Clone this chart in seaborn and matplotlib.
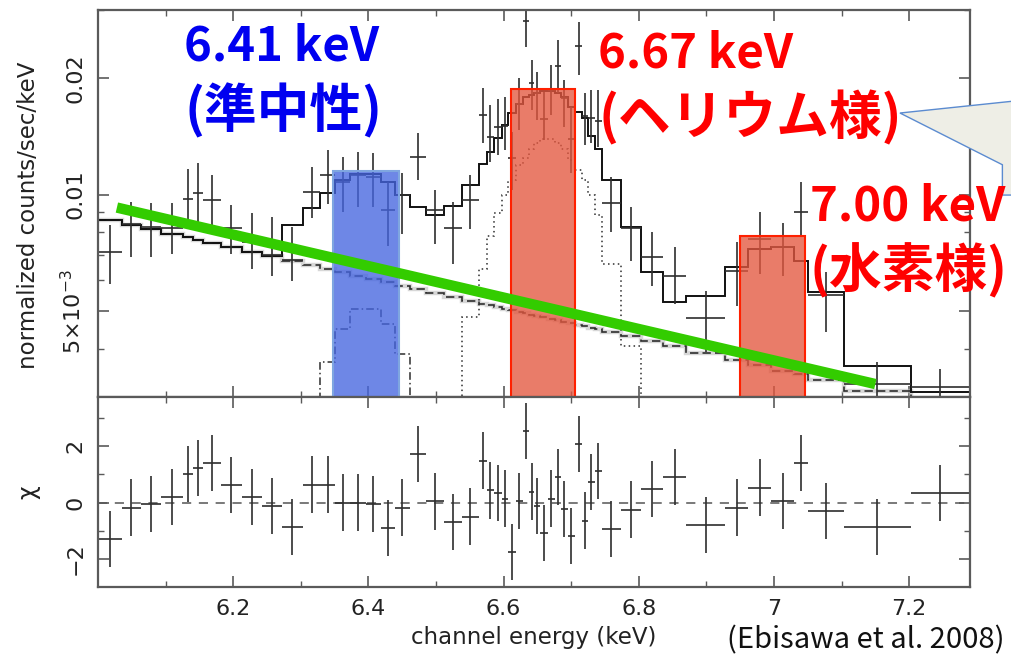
import numpy as np
import matplotlib
matplotlib.use("Agg")
import matplotlib.pyplot as plt
from matplotlib.patches import Rectangle, Polygon
from matplotlib.colors import to_rgba
from matplotlib.ticker import FixedLocator, FixedFormatter, NullFormatter, FuncFormatter
import seaborn as sns

sns.set_theme(style="ticks")
plt.rcParams["font.family"] = ["DejaVu Sans"]
plt.rcParams["mathtext.fontset"] = "dejavusans"

# channel bins (keV), 52 grouped channels
bin_edges = [6.000, 6.035, 6.064, 6.093, 6.126, 6.140, 6.156, 6.182, 6.213, 6.242,
             6.272, 6.303, 6.329, 6.351, 6.373, 6.396, 6.418, 6.440, 6.461, 6.485,
             6.512, 6.538, 6.563, 6.575, 6.586, 6.597, 6.607, 6.618, 6.629, 6.638,
             6.645, 6.654, 6.665, 6.676, 6.685, 6.695, 6.706, 6.716, 6.725, 6.735,
             6.745, 6.774, 6.803, 6.836, 6.870, 6.928, 6.962, 6.996, 7.030, 7.050,
             7.104, 7.202, 7.290]

# observed spectrum (counts/sec/keV) with error range
cnt = [.00709, .00842, .00827, .00818, .00977, .01012, .00971, .00822, .00753, .00697,
       .00676, .01018, .01126, .0108, .01126, .01113, .00910, .0100, .01253, .00915,
       .00818, .00971, .01607, .0141, .01496, .01505, .01245, .01715, .02804, .01942,
       .0183, .0157, .01863, .02147, .01776, .01394, .0242, .01597, .0158, .0155,
       .00954, .00822, .00688, .00618, .0048, .00633, .00766, .00731, .00904, .0055,
       .00324, .00319]
cnt_lo = [.00587, .00688, .00688, .00701, .00822, .00837, .00822, .00701, .00641, .00615,
          .00597, .00872, .00948, .00904, .00931, .00931, .00735, .00789, .01093, .00744,
          .0066, .00813, .01361, .01216, .01268, .01306, .0103, .0147, .02404, .01655,
          .0156, .01386, .01607, .0183, .01496, .0114, .02036, .01345, .01361, .0133,
          .00803, .00672, .0058, .00521, .00392, .00515, .00622, .00615, .0078, .00441,
          .00297, .0029]
cnt_hi = [.00837, .00959, .00954, .00954, .01167, .01209, .01126, .00943, .00899, .00878,
          .00827, .0118, .01306, .01253, .0129, .01283, .0108, .0114, .01444, .0103,
          .00959, .01126, .01885, .01705, .01766, .01787, .01453, .0200, .0299, .02227,
          .0207, .0184, .0216, .0251, .01977, .01685, .0279, .0183, .01863, .01863,
          .0111, .00931, .00803, .00731, .00563, .00753, .00904, .00847, .0108, .0063,
          .0037, .00355]

# best-fit model: total, continuum, Fe XXV and Fe I lines
model_cnt = [.00859, .00835, .00813, .00791, .00775, .00764, .00751, .00731, .00712, .00693,
             .00834, .00926, .0101, .0109, .0113, .0113, .0108, .0100, .00931, .00888,
             .00937, .0106, .0120, .0129, .0140, .0151, .0163, .0172, .0179, .0181,
             .0183, .0185, .0185, .0183, .0179, .0168, .0164, .0158, .0142, .0131,
             .0109, .00827, .00630, .00527, .00546, .00649, .00722, .00731, .00672, .00560,
             .00361, .00309]
cont_cnt = [.00859, .00835, .00813, .00791, .00775, .00764, .00751, .00731, .00712, .00693,
            .00674, .00656, .00642, .00630, .00617, .00605, .00593, .00582, .00571, .00558,
            .00545, .00532, .00523, .00518, .00513, .00507, .00503, .00498, .00494, .00490,
            .00487, .00483, .00478, .00473, .00470, .00465, .00461, .00457, .00453, .00449,
            .00441, .00430, .00418, .00406, .00389, .00373, .00362, .00351, .00343, .00332,
            .00310, .00286]
fexxv_cnt = [.00483, .00641, .0078, .00899, .0100, .0109, .01195, .01245, .0131, .0136,
             .0139, .0139, .0136, .0131, .0123, .0116, .0109, .0100, .00888, .0066, .00406]
fexxv_first = 21
fei_cnt = [.0037, .00449, .00506, .00506, .00463, .00388]
fei_first = 12

# residuals (sigma)
chi = [-1.29, -0.18, -0.04, 0.2, 1.02, 1.23, 1.40, 0.62, 0.2, -0.12,
       -0.88, 0.64, 0.64, 0.0, 0.0, -0.04, -0.9, -0.18, 1.72, 0.04,
       -0.68, -0.5, 1.49, 0.43, 0.35, 0.14, -1.75, 0.06, 2.54, 0.39,
       -0.12, -1.09, 0.14, 0.9, -0.23, -1.2, 2.07, -0.64, 0.74, 1.13,
       -0.95, -0.25, 0.47, 0.9, -0.8, -0.18, 0.53, 0.06, 1.4, -0.29,
       -0.88, 0.35]

# highlighted line bands
band_lo = [6.347, 6.611, 6.950]
band_hi = [6.445, 6.706, 7.046]
band_top = [0.01153, 0.0187, 0.00784]
band_face = ["#4565e0", "#e3573f", "#e3573f"]
band_edge = ["#7fa6e0", "#ff2000", "#ff2000"]

# hand drawn continuum guide
green_e = [6.028, 7.150]
green_cnt = [0.00926, 0.00324]

xtick_major = [6.2, 6.4, 6.6, 6.8, 7.0, 7.2]
xtick_minor = [6.1, 6.3, 6.5, 6.7, 6.9, 7.1]
ytick_major = [0.005, 0.01, 0.02]
ytick_labels = [r"5×10$^{-3}$", "0.01", "0.02"]
ytick_minor = [0.003, 0.004, 0.006, 0.007, 0.008, 0.009, 0.03]

edges = np.array(bin_edges)
centers = (edges[:-1] + edges[1:]) / 2
half_w = np.diff(edges) / 2
cnt = np.array(cnt)
yerr = [cnt - np.array(cnt_lo), np.array(cnt_hi) - cnt]

line_c = "#2e2e2e"
frame_c = "#5a5a5a"

fig = plt.figure(figsize=(10.12, 6.59), dpi=100)
ax = fig.add_axes([0.0968, 0.3976, 0.8617, 0.5872])
ax2 = fig.add_axes([0.0968, 0.1093, 0.8617, 0.2883], sharex=ax)

# --- spectrum panel
ax.stairs(cont_cnt, edges, baseline=None, color="#bdbdbd", lw=3.2, alpha=0.6, zorder=1)
ax.stairs(cont_cnt, edges, baseline=None, color=line_c, lw=1.2, ls=(0, (5, 2.5)), zorder=2)
ax.stairs(model_cnt, edges, baseline=None, color="#111111", lw=1.4, zorder=2)
ax.stairs(fexxv_cnt, edges[fexxv_first:fexxv_first + len(fexxv_cnt) + 1], baseline=1e-4,
          color=line_c, lw=1.1, ls=(0, (1, 2.2)), zorder=2)
ax.stairs(fei_cnt, edges[fei_first:fei_first + len(fei_cnt) + 1], baseline=1e-4,
          color=line_c, lw=1.1, ls=(0, (5, 2, 1, 2)), zorder=2)
ax.errorbar(centers, cnt, yerr=yerr, xerr=half_w, fmt="none", ecolor=line_c,
            elinewidth=1.2, capsize=0, zorder=2)

for lo, hi, top, fc, ec in zip(band_lo, band_hi, band_top, band_face, band_edge):
    ax.add_patch(Rectangle((lo, 0.003), hi - lo, top - 0.003, facecolor=to_rgba(fc, 0.78),
                           edgecolor=ec, lw=1.5, zorder=3))

sns.lineplot(x=green_e, y=green_cnt, ax=ax, color="#33cc00", lw=7.5,
             solid_capstyle="butt", zorder=4)

ax.set_yscale("log")
ax.set_xlim(6.0, 7.29)
ax.set_ylim(0.003, 0.03)
ax.yaxis.set_major_locator(FixedLocator(ytick_major))
ax.yaxis.set_major_formatter(FixedFormatter(ytick_labels))
ax.yaxis.set_minor_locator(FixedLocator(ytick_minor))
ax.yaxis.set_minor_formatter(NullFormatter())
ax.set_ylabel("normalized counts/sec/keV", fontsize=16.5, color="#222222")
ax.yaxis.set_label_coords(-0.066, 0.47)
ax.tick_params(axis="x", labelbottom=False)

# --- residual panel
ax2.axhline(0, color="#555555", lw=1.1, ls=(0, (6, 5)), zorder=1)
ax2.errorbar(centers, chi, yerr=1.0, xerr=half_w, fmt="none", ecolor=line_c,
             elinewidth=1.2, capsize=0, zorder=2)
ax2.set_ylim(-3.0, 3.75)
ax2.yaxis.set_major_locator(FixedLocator([-2, 0, 2]))
ax2.yaxis.set_minor_locator(FixedLocator([-1, 1, 3]))
ax2.yaxis.set_major_formatter(FuncFormatter(lambda v, p: f"{v:g}".replace("-", "\u2212")))
ax2.set_ylabel("χ", fontsize=17, color="#222222")
ax2.yaxis.set_label_coords(-0.066, 0.5)
ax2.xaxis.set_major_locator(FixedLocator(xtick_major))
ax2.xaxis.set_minor_locator(FixedLocator(xtick_minor))
ax2.xaxis.set_major_formatter(FuncFormatter(lambda v, p: f"{v:g}"))
ax2.set_xlabel("channel energy (keV)", fontsize=16.5, color="#222222", labelpad=5)

for a in (ax, ax2):
    for s in a.spines.values():
        s.set_color(frame_c)
        s.set_linewidth(1.6)
    a.tick_params(which="both", direction="in", top=True, right=True, color=frame_c,
                  labelsize=16, labelcolor="#222222")
    a.tick_params(which="major", length=8, width=1.2)
    a.tick_params(which="minor", length=4, width=1.0)
    a.tick_params(axis="y", labelrotation=90, pad=9)
    a.tick_params(axis="x", pad=9)
    # vertical tick labels centred on their ticks
    for t in a.yaxis.get_major_ticks():
        t.label1.set_rotation_mode("default")
        t.label1.set_verticalalignment("center")

# --- callout bubble and annotations
bubble = Polygon([(0.8893, 0.8285), (1.003, 0.8468), (1.003, 0.7040),
                  (0.9905, 0.7040), (0.9905, 0.7500)], closed=True,
                 transform=fig.transFigure, facecolor="#eeeee6", edgecolor="#5b8bd0",
                 lw=1.0, zorder=5)
fig.patches.append(bubble)

jp = ["Noto Sans CJK JP", "DejaVu Sans"]
notes = [(0.182, 0.930, "6.41 keV", "#0000f0", 34),
         (0.182, 0.832, "(準中性)", "#0000f0", 38),
         (0.591, 0.919, "6.67 keV", "#ff0000", 34),
         (0.591, 0.821, "(ヘリウム様)", "#ff0000", 38),
         (0.800, 0.687, "7.00 keV", "#ff0000", 34),
         (0.800, 0.589, "(水素様)", "#ff0000", 38)]
for x, y, s, c, fs in notes:
    fig.text(x, y, s, color=c, fontsize=fs, fontweight="bold", family=jp,
             va="center", ha="left", zorder=6)
fig.text(0.993, 0.029, "(Ebisawa et al. 2008)", color="#111111", fontsize=21,
         family=jp, va="center", ha="right", zorder=6)

fig.savefig("out.png", dpi=100, facecolor="white")
